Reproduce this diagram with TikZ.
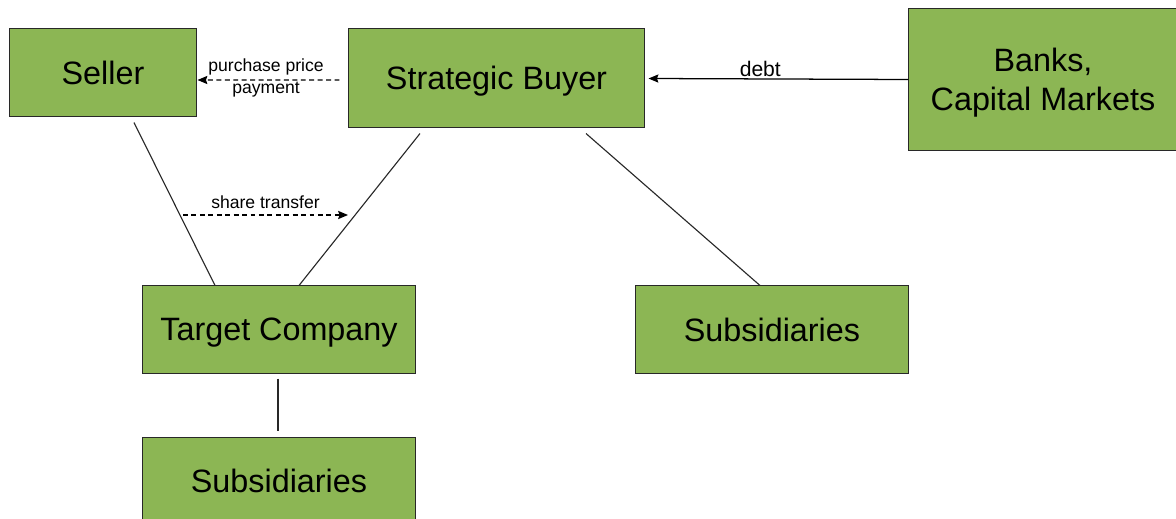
\documentclass[tikz,border=0pt]{standalone}
\usepackage{fontspec}
\setmainfont{Liberation Sans}
\usepackage{tikz}
\usetikzlibrary{arrows,arrows.meta,positioning}
\definecolor{boxgreen}{RGB}{140,182,84}
\definecolor{linegray}{RGB}{40,40,40}
\tikzset{
    %Define standard arrow tip
    >={Stealth[length=7pt,width=5.8pt,inset=1pt]},
    %Define style for boxes
    party/.style={
           rectangle,
           draw=linegray, line width=0.7pt,
           fill=boxgreen,
           inner sep=0pt,
           text depth=0pt,
           font=\fontsize{23}{27.6}\selectfont,
           align=center},
    % Define arrow styles
    flow/.style={
           ->,
           black,
           dash pattern=on 3.5pt off 2.5pt,
           line width=0.9pt},
    tag/.style={
           inner sep=1pt,
           align=center,
           font=\fontsize{12.5}{15.5}\selectfont}
}

\begin{document}
\begin{tikzpicture}[x=0.025cm,y=-0.025cm,line width=0.8pt,draw=linegray]
\useasboundingbox (0,0) rectangle (1176,519);

\node[party, minimum width=4.65cm, minimum height=2.175cm] (1) at (103,72.5) {Seller};
\node[party, minimum width=7.375cm, minimum height=2.45cm] (2) at (496.5,78) {Strategic Buyer};
\node[party, minimum width=6.7cm, minimum height=3.525cm] (3) at (1043,79.5) {Banks,\\Capital Markets};
\node[party, minimum width=6.8cm, minimum height=2.175cm] (4) at (279,329.5) {Target Company};
\node[party, minimum width=6.8cm, minimum height=2.175cm] (5) at (772,329.5) {Subsidiaries};
\node[party, minimum width=6.8cm, minimum height=2.175cm, below=1.575cm of 4] (6) {Subsidiaries};

\coordinate (a) at (183,215);
\coordinate (b) at (348,215);

\path[]
	([shift={(31,6)}]1.south) edge ([shift={(-64,0)}]4.north)
	([shift={(-76.5,6)}]2.south) edge ([shift={(20,0)}]4.north)
	([shift={(89.5,6)}]2.south) edge ([shift={(-12,0)}]5.north)
	([shift={(-1,5)}]4.south) edge ([shift={(-1,-6)}]6.north);

\draw[->, black, line width=0.9pt] (3.west) -- node[tag, pos=0.57, above, font=\fontsize{15}{18}\selectfont] {debt} ([shift={(4,0.5)}]2.east);
\draw[flow] ([shift={(-9,2)}]2.west) -- ([shift={(1,7.5)}]1.east);
\node[tag] (pp) at (266,78) {purchase price\\payment};
\draw[flow] (a) -- node[tag, above=3pt] {share transfer} (b);
\end{tikzpicture}
\end{document}
